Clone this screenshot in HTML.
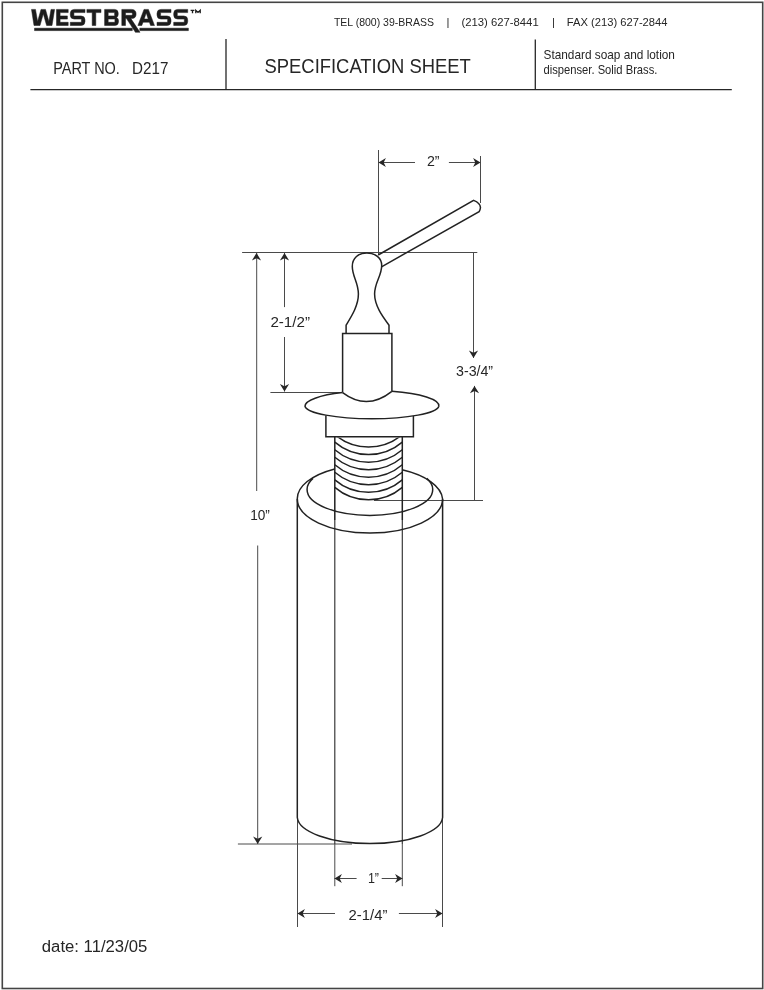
<!DOCTYPE html>
<html><head><meta charset="utf-8">
<style>
html,body{margin:0;padding:0;background:#fff;}
body{width:764px;height:990px;overflow:hidden;position:relative;}
svg{position:absolute;left:0;top:0;display:block;will-change:transform;}
text{font-family:"Liberation Sans",sans-serif;fill:#262626;}
.dim{stroke:#4a4a4a;stroke-width:1;fill:none;}
.obj{stroke:#222;stroke-width:1.5;fill:none;}
.ah{fill:#262626;stroke:none;}
</style></head><body>
<svg width="764" height="990" viewBox="0 0 764 990">
<!-- page border -->
<rect x="2.3" y="2.3" width="760.4" height="986.2" fill="none" stroke="#444" stroke-width="1.6"/>

<!-- LOGO -->
<g fill="#1c1c1c" fill-rule="evenodd" stroke="#1c1c1c" stroke-width="0.5" stroke-linejoin="round">
  <path d="M31.5,9.4 H35.5 L37.6,21.5 L41,9.4 H45.5 L48.9,21.5 L51,9.4 H54.6 L52,25.5 H46.6 L43.3,13.8 L40,25.5 H34 Z"/>
  <path d="M56.5,9.4 H68.2 V12.6 H60.1 V15.9 H67.4 V19.1 H60.1 V22.3 H68.2 V25.5 H56.5 Z"/>
  <path d="M85,9.4 H74.3 Q70.3,9.4 70.3,13.4 V15.1 Q70.3,19.1 74.3,19.1 H81.4 V22.3 H70.3 V25.5 H81 Q85,25.5 85,21.5 V19.9 Q85,15.9 81,15.9 H73.9 V12.6 H85 Z"/>
  <path d="M86.9,9.4 H101 V12.6 H95.8 V25.5 H92.2 V12.6 H86.9 Z"/>
  <path d="M104.6,9.4 H114.5 Q118.2,9.4 118.2,13 V14.5 Q118.2,16.6 116.6,17.4 Q118.5,18.3 118.5,20.6 V21.8 Q118.5,25.5 114.8,25.5 H104.6 Z M108.2,12.6 V15.9 H114.6 V12.6 Z M108.2,19.1 V22.3 H114.9 V19.1 Z"/>
  <path d="M121.8,9.4 H131.5 Q136.1,9.4 136.1,14 Q136.1,18.6 131.5,18.6 H130.9 L140,32.3 H135.4 L126.5,18.6 H125.5 V25.5 H121.8 Z M125.5,12.7 V15.3 H131.4 Q132.5,15.3 132.5,14 Q132.5,12.7 131.4,12.7 Z"/>
  <path d="M137.9,25.5 L144,9.4 H148.4 L154.5,25.5 H150.6 L149.4,22.2 H143 L141.8,25.5 Z M144.2,19 H148.2 L146.4,13.4 H146 Z"/>
  <path d="M171,9.4 H161 Q157,9.4 157,13.4 V15.1 Q157,19.1 161,19.1 H167.6 V22.3 H157 V25.5 H167 Q171,25.5 171,21.5 V19.9 Q171,15.9 167,15.9 H160.6 V12.6 H171 Z"/>
  <path d="M187.7,9.4 H177.7 Q173.7,9.4 173.7,13.4 V15.1 Q173.7,19.1 177.7,19.1 H184.3 V22.3 H173.7 V25.5 H183.7 Q187.7,25.5 187.7,21.5 V19.9 Q187.7,15.9 183.7,15.9 H177.3 V12.6 H187.7 Z"/>
  <rect x="34.5" y="28.2" width="97.8" height="2.4"/>
  <rect x="139.8" y="28.2" width="48.6" height="2.4"/>
</g>
<g stroke="#1c1c1c" stroke-width="1.35" fill="none">
  <path d="M190.6,10.3 H194.4 M192.5,10.3 V13.2 M195.8,13.2 V10.3 L198,12.4 L200.2,10.3 V13.2"/>
</g>

<!-- header texts -->
<text x="333.9" y="25.7" font-size="11.3" textLength="100" lengthAdjust="spacingAndGlyphs">TEL (800) 39-BRASS</text>
<text x="446.5" y="25.7" font-size="11.3">|</text>
<text x="461.4" y="25.7" font-size="11.3" textLength="77.3" lengthAdjust="spacingAndGlyphs">(213) 627-8441</text>
<text x="552" y="25.7" font-size="11.3">|</text>
<text x="566.8" y="25.7" font-size="11.3" textLength="100.7" lengthAdjust="spacingAndGlyphs">FAX (213) 627-2844</text>

<text x="53.2" y="73.5" font-size="16" textLength="66.7" lengthAdjust="spacingAndGlyphs">PART NO.</text>
<text x="132.1" y="73.5" font-size="16" textLength="36.3" lengthAdjust="spacingAndGlyphs">D217</text>
<text x="264.5" y="73.4" font-size="20.6" textLength="206.3" lengthAdjust="spacingAndGlyphs">SPECIFICATION SHEET</text>
<text x="543.5" y="58.7" font-size="12.4" textLength="131.4" lengthAdjust="spacingAndGlyphs">Standard soap and lotion</text>
<text x="543.5" y="74" font-size="12.4" textLength="113.9" lengthAdjust="spacingAndGlyphs">dispenser. Solid Brass.</text>

<!-- header lines -->
<g stroke="#262626" stroke-width="1.3">
  <line x1="30.4" y1="89.6" x2="731.8" y2="89.6"/>
  <line x1="226" y1="39" x2="226" y2="89.6"/>
  <line x1="535.3" y1="39.5" x2="535.3" y2="89.6"/>
</g>


<!-- DRAWING -->
<g id="drawing">
<!-- dimension / extension lines -->
<g class="dim">
  <path d="M378.5,150 V254.7"/>
  <path d="M480.5,156 V203"/>
  <path d="M378.5,162.5 H415 M448.9,162.5 H480.5"/>
  <path d="M242.1,252.5 H477.3"/>
  <path d="M256.7,253 V491 M257.7,545.5 V844"/>
  <path d="M284.5,253 V307.1 M284.5,337 V391.5"/>
  <path d="M270.4,392.5 H341.5"/>
  <path d="M473.5,252 V357.9 M474.5,385.9 V500.5"/>
  <path d="M374,500.5 H483"/>
  <path d="M237.9,844 H352"/>
  <path d="M297.5,817.5 V927 M442.5,817.5 V927"/>
  <path d="M334.8,844 V886.2 M402.3,844 V886.2"/>
  <path d="M334.5,878.5 H356.6 M381.7,878.5 H402.5"/>
  <path d="M297.5,913.5 H335 M398.9,913.5 H442.5"/>
</g>
<g class="ah">
  <path d="M378.5,162.5 l7.4,-4.6 l-2.2,4.6 l2.2,4.6 z"/>
  <path d="M480.5,162.5 l-7.4,-4.6 l2.2,4.6 l-2.2,4.6 z"/>
  <path d="M256.5,253 l-4.6,7.4 l4.6,-2.2 l4.6,2.2 z"/>
  <path d="M257.7,844 l-4.6,-7.4 l4.6,2.2 l4.6,-2.2 z"/>
  <path d="M284.5,253 l-4.6,7.4 l4.6,-2.2 l4.6,2.2 z"/>
  <path d="M284.5,391.5 l-4.6,-7.4 l4.6,2.2 l4.6,-2.2 z"/>
  <path d="M473.5,357.9 l-4.6,-7.4 l4.6,2.2 l4.6,-2.2 z"/>
  <path d="M474.5,385.9 l-4.6,7.4 l4.6,-2.2 l4.6,2.2 z"/>
  <path d="M334.5,878.5 l7.4,-4.6 l-2.2,4.6 l2.2,4.6 z"/>
  <path d="M402.5,878.5 l-7.4,-4.6 l2.2,4.6 l-2.2,4.6 z"/>
  <path d="M297.5,913.5 l7.4,-4.6 l-2.2,4.6 l2.2,4.6 z"/>
  <path d="M442.5,913.5 l-7.4,-4.6 l2.2,4.6 l-2.2,4.6 z"/>
</g>
<!-- object lines -->
<g class="obj">
  <!-- spout -->
  <path d="M378.2,255 L473.6,200.4 C477.5,202 480.8,204.5 480.4,208 C480.2,209.8 479.6,211 479.1,211.7 L381.5,266.8"/>
  <!-- knob -->
  <path d="M346.1,333.4 V325.1 C351,317 358.4,306 358.4,294 C358.4,282.5 352.3,276.5 352.3,266.5 C352.3,258 358.5,253 366.8,253 C375.2,253 381.7,258 381.7,265.5 C381.7,276 374.6,282.5 374.6,294 C374.6,306 383,317 389,325.1 V333.4"/>
  <!-- pump cylinder -->
  <path d="M342.6,392.6 V333.4 H391.9 V391.3"/>
  <path d="M342.6,392.6 Q367,411 391.9,391.3"/>
  <!-- flange -->
  <path d="M342.6,392.6 A67,15.1 0 0 0 305,406.2 A67,13.3 0 0 0 438.8,406.2 A67,15.1 0 0 0 391.9,391.3"/>
  <!-- nut -->
  <path d="M325.9,415.6 V436.8 H413.4 V416"/>
  <!-- tube -->
  <path d="M334.8,436.8 V520 M402.3,436.8 V520"/><path d="M334.8,520 V844 M402.3,520 V844" stroke-width="1.15" stroke="#333"/>
  <!-- body -->
  <path d="M334.7,468.9 A72.6,34 0 0 0 297.3,499 V817.5 A72.7,27 0 0 0 442.6,817.5 V499 A72.6,34 0 0 0 402.1,469.8"/>
  <path d="M297.3,499 A72.6,34 0 0 0 442.6,499"/>
  <path d="M313,478.4 A62.8,25.6 0 0 0 307.1,489.8 A62.8,25.6 0 0 0 432.7,489.8 A62.8,25.6 0 0 0 426.8,478.4"/>
</g>
<clipPath id="thr"><rect x="330" y="437.4" width="80" height="70"/></clipPath>
<g class="obj" clip-path="url(#thr)">
  <path d="M334.8,434.6 A52,52 0 0 0 402.3,434.6"/>
  <path d="M334.8,442.1 A52,52 0 0 0 402.3,442.1"/>
  <path d="M334.8,449.7 A52,52 0 0 0 402.3,449.7"/>
  <path d="M334.8,457.2 A52,52 0 0 0 402.3,457.2"/>
  <path d="M334.8,464.8 A52,52 0 0 0 402.3,464.8"/>
  <path d="M334.8,472.3 A52,52 0 0 0 402.3,472.3"/>
  <path d="M334.8,479.9 A52,52 0 0 0 402.3,479.9"/>
  <path d="M334.8,487.4 A52,52 0 0 0 402.3,487.4"/>
</g>
<!-- dimension texts -->
<text x="426.9" y="165.7" font-size="14.2">2”</text>
<text x="270.4" y="326.5" font-size="14.2" textLength="39.6" lengthAdjust="spacingAndGlyphs">2-1/2”</text>
<text x="250.2" y="519.6" font-size="14.2" textLength="19.7" lengthAdjust="spacingAndGlyphs">10”</text>
<text x="456" y="375.5" font-size="14.2" textLength="37.1" lengthAdjust="spacingAndGlyphs">3-3/4”</text>
<text x="367.9" y="882.6" font-size="14.2" textLength="11.1" lengthAdjust="spacingAndGlyphs">1”</text>
<text x="348.6" y="919.7" font-size="14.2" textLength="38.8" lengthAdjust="spacingAndGlyphs">2-1/4”</text>
</g>

<text x="41.8" y="951.5" font-size="15.6" textLength="105.6" lengthAdjust="spacingAndGlyphs">date: 11/23/05</text>
</svg>
</body></html>
